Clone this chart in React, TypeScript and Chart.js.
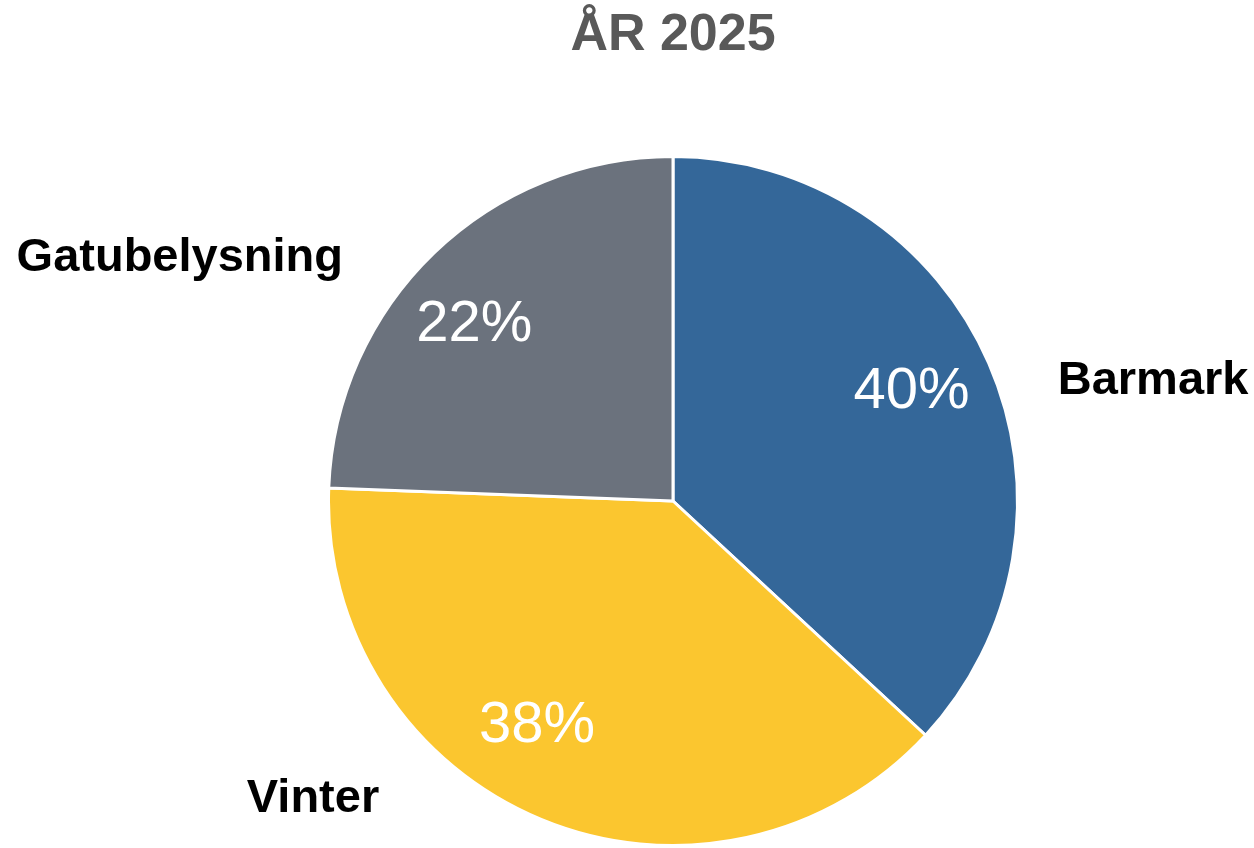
import React, { useEffect, useRef } from "react";
import { Chart, registerables } from "chart.js";

Chart.register(...registerables);

const titleText = "ÅR 2025";
const categories = ["Barmark", "Vinter", "Gatubelysning"];
const sliceValues = [36.9, 38.7, 24.4];
const percentLabels = ["40%", "38%", "22%"];
const sliceColors = ["#346799", "#FBC62F", "#6B727D"];

const FONT = '"Liberation Sans", Arial, Helvetica, sans-serif';

// offsets relative to the bisector points (style/placement, not data)
const pctNudge = [
  [-3, -4],
  [-35, -18],
  [-16, 14],
];
const catPlacement: { dx: number; dy: number; align: CanvasTextAlign }[] = [
  { dx: 69, dy: 18, align: "left" },
  { dx: -162, dy: -20, align: "right" },
  { dx: -91, dy: 5, align: "right" },
];

const labelPlugin = {
  id: "pieLabels",
  afterDraw(chart: any) {
    const ctx = chart.ctx as CanvasRenderingContext2D;
    const meta = chart.getDatasetMeta(0);
    ctx.save();
    // title
    ctx.fillStyle = "#595959";
    ctx.font = `bold 52px ${FONT}`;
    ctx.textAlign = "center";
    ctx.textBaseline = "middle";
    ctx.fillText(titleText, chart.width / 2 + 46, 36);

    meta.data.forEach((arc: any, i: number) => {
      const { x, y, startAngle, endAngle, outerRadius } = arc.getProps(
        ["x", "y", "startAngle", "endAngle", "outerRadius"],
        true
      );
      const mid = (startAngle + endAngle) / 2;
      const cos = Math.cos(mid);
      const sin = Math.sin(mid);
      // percent labels
      const pr = outerRadius * 0.765;
      ctx.fillStyle = "#FFFFFF";
      ctx.font = `58px ${FONT}`;
      ctx.textAlign = "center";
      ctx.textBaseline = "middle";
      ctx.fillText(
        percentLabels[i],
        x + cos * pr + pctNudge[i][0],
        y + sin * pr + pctNudge[i][1]
      );
      // category labels
      const p = catPlacement[i];
      ctx.fillStyle = "#000000";
      ctx.font = `bold 47px ${FONT}`;
      ctx.textAlign = p.align;
      ctx.fillText(
        categories[i],
        x + cos * outerRadius + p.dx,
        y + sin * outerRadius + p.dy
      );
    });
    ctx.restore();
  },
};

export default function App() {
  const ref = useRef<HTMLCanvasElement | null>(null);
  useEffect(() => {
    document.body.style.margin = "0";
    if (!ref.current) return;
    const chart = new Chart(ref.current, {
      type: "pie",
      data: {
        labels: categories,
        datasets: [
          {
            data: sliceValues,
            backgroundColor: sliceColors,
            borderColor: "#FFFFFF",
            borderWidth: 3,
          },
        ],
      },
      options: {
        responsive: false,
        animation: false,
        devicePixelRatio: 1,
        layout: { padding: { top: 155, bottom: 1, left: 327, right: 235 } },
        plugins: {
          legend: { display: false },
          tooltip: { enabled: false },
          title: { display: false },
        },
      },
      plugins: [labelPlugin],
    });
    return () => chart.destroy();
  }, []);
  return (
    <div style={{ position: "fixed", left: 0, top: 0, width: 1254, height: 848, background: "#fff" }}>
      <canvas ref={ref} width={1254} height={848} />
    </div>
  );
}
